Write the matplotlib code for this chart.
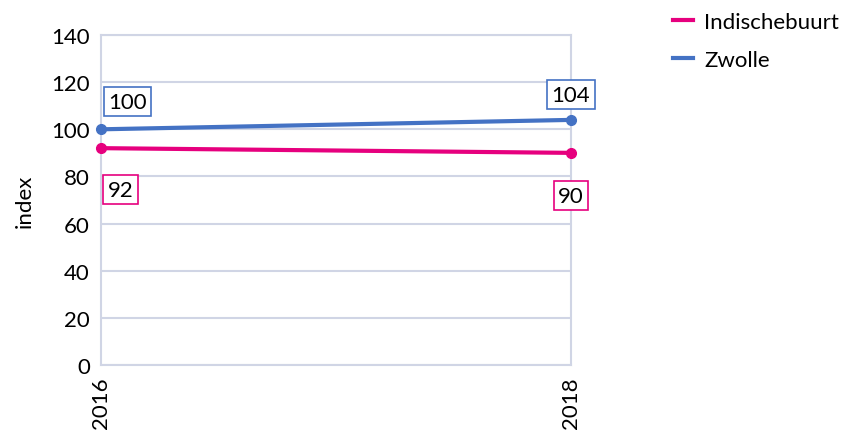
import matplotlib.pyplot as plt
from matplotlib.lines import Line2D

years = ["2016", "2018"]
indischebuurt = [92, 90]
zwolle = [100, 104]

plt.rcParams['font.family'] = ['Lato', 'DejaVu Sans']

fig = plt.figure(figsize=(8.56, 4.35), dpi=100)
ax = fig.add_axes([0.118, 0.159, 0.549, 0.758])

pink = '#E6007E'
blue = '#4472C4'
grid = '#D0D5E5'
fs = 16

x = list(range(len(years)))
ax.plot(x, indischebuurt, '-o', color=pink, lw=3, ms=7, zorder=3, clip_on=False)
ax.plot(x, zwolle, '-o', color=blue, lw=3, ms=7, zorder=3, clip_on=False)

ax.set_xlim(0, 1)
ax.set_ylim(0, 140)
ax.set_yticks(range(0, 141, 20))
ax.set_xticks(x)
ax.set_xticklabels(years, rotation=90)
ax.yaxis.grid(True, color=grid, lw=1.5)
ax.set_axisbelow(True)
for s in ax.spines.values():
    s.set_color(grid)
    s.set_linewidth(1.5)
ax.tick_params(length=0, labelsize=fs, pad=8)
ax.set_ylabel('index', fontsize=fs, labelpad=12)

def label(xi, yi, txt, col, dx, dy):
    ax.annotate(txt, (xi, yi), xytext=(dx, dy), textcoords='offset points',
                ha='center', va='center', fontsize=fs,
                bbox=dict(boxstyle='square,pad=0.2', fc='white', ec=col, lw=1.2))

label(0, zwolle[0], str(zwolle[0]), blue, 19, 20)
label(1, zwolle[1], str(zwolle[1]), blue, 0, 18)
label(0, indischebuurt[0], str(indischebuurt[0]), pink, 14, -30)
label(1, indischebuurt[1], str(indischebuurt[1]), pink, 0, -31)

handles = [Line2D([], [], color=pink, lw=3), Line2D([], [], color=blue, lw=3)]
ax.legend(handles, ['Indischebuurt', 'Zwolle'], loc='upper left',
          bbox_to_anchor=(1.175, 1.13), frameon=False,
          fontsize=fs, handlelength=0.9, handletextpad=0.5, labelspacing=0.8)

fig.savefig('out.png', dpi=100)
